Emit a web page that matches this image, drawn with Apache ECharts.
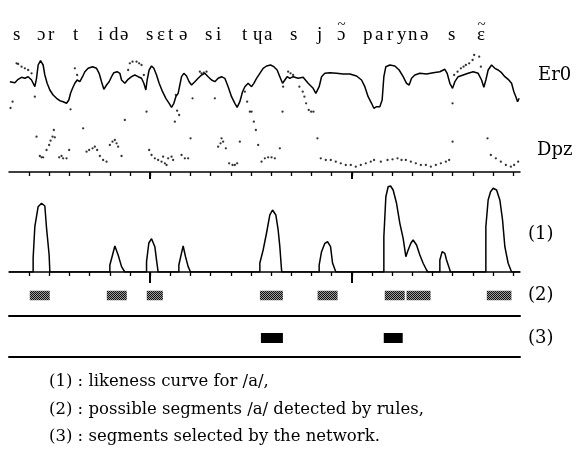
<!DOCTYPE html>
<html>
<head>
<meta charset="utf-8">
<script src="https://cdn.jsdelivr.net/npm/echarts@6/dist/echarts.min.js"></script>
<style>html,body{margin:0;padding:0;background:#fff}#c{width:580px;height:467px}</style>
</head>
<body>
<div id="c"></div>
<script>
// ---- data (time axis in frames; big ticks every 10 small ticks) ----
const tickValues = [40,50,60,70,80,90,100,110,120,130,140,150,160,170,180,190,200,210,220,230,240,250,260,270,280];
const bigTickValues = [100,200];
const phonemes = ['s','ɔ','r','t','i','d','ə','s','ɛ','t','ə','s','i','t','ɥ','a','s','j','ɔ\u0303','p','a','r','y','n','ə','s','ɛ\u0303'];
const captions = ['(1) : likeness curve for /a/,', '(2) : possible segments /a/ detected by rules,', '(3) : segments selected by the network.'];
const rowLabels = ['Er0','Dpz','(1)','(2)','(3)'];

const er0 = [[30.42,90.3],[32.9,89.3],[34.53,92.7],[36.22,94.7],[37.85,93.7],[39.49,95.3],[41.18,92],[42.81,85.3],[43.65,93.7],[44.45,107],[45.64,111.3],[46.93,107],[47.77,97],[48.91,88.7],[50.25,82],[51.88,77],[53.57,73.7],[55.21,71.3],[56.84,70.3],[58.53,68.7],[59.67,72],[60.51,78.7],[61.5,83.7],[62.64,88.7],[63.78,92],[65.12,90.3],[66.46,95.3],[67.6,100.3],[69.24,103.7],[71.42,105.3],[73.4,103.7],[74.69,98.7],[75.88,90.3],[77.02,82.7],[78.36,87],[79.65,90.3],[80.84,95.3],[81.98,99.3],[83.62,100.3],[84.95,98.7],[85.8,92],[87.43,88.7],[89.07,92.7],[90.75,95.3],[92.39,97],[94.03,95.3],[95.71,93.7],[96.85,88.7],[97.85,82],[98.49,92],[99.48,102],[100.67,106],[101.81,103.7],[103.15,97],[104.44,88.7],[106.13,80.3],[107.76,73.7],[109.4,68.7],[110.59,64.7],[111.73,68.7],[112.72,75.3],[113.86,78.7],[114.7,87],[115.55,95.3],[116.69,98.7],[118.02,96],[119.31,90.3],[120.5,87],[122.14,90.3],[123.78,93.7],[125.46,97],[127.1,98.7],[128.73,95.3],[130.42,92],[132.06,90.3],[133.69,93.7],[135.38,95.3],[137.01,93.7],[138.65,85.3],[140.33,75.3],[141.97,68.7],[143.11,64.7],[144.45,70.3],[145.79,80.3],[146.93,85.3],[148.57,88.7],[150.25,85.3],[151.39,88.7],[152.73,93.7],[154.37,98.7],[156,103.7],[157.69,106],[159.67,107],[161.31,105.3],[162.94,102],[164.28,95.3],[165.62,88.7],[166.76,92],[167.9,95.3],[169.24,93.7],[170.87,95.3],[173.35,93.7],[175.83,94.7],[178.31,88.7],[180.79,83.7],[182.13,78.7],[183.77,85.3],[184.96,95.3],[186.59,98.7],[189.07,99.3],[192.39,98.7],[195.67,98],[198.99,98],[202.31,96],[204.79,92],[206.42,85.3],[208.06,75.3],[209.75,68.7],[210.89,63.7],[212.23,65.3],[213.86,65.3],[215,72],[215.85,95.3],[216.84,105.3],[218.82,107],[221.3,106],[223.43,102],[225.42,95.3],[227.1,88.7],[228.39,87],[229.58,93.7],[231.22,97],[233.7,98.7],[237.02,98],[240.34,99.3],[243.61,100.3],[246.09,102.7],[247.23,98.7],[248.57,88.7],[249.91,83.7],[251.05,90.3],[252.69,95.3],[255.17,97],[257.65,98.7],[260.13,100.3],[262.61,98.7],[264.29,92],[265.43,84.7],[266.42,92],[267.56,102],[269.25,107],[270.88,103.7],[272.52,102],[274.2,99.3],[275.84,95.3],[277.48,92.7],[279.17,88.7],[280.31,80.3],[281.3,75.3],[282.14,70.3],[282.93,73.7]];

const dpz = [[30.76,64],[31.76,70.3],[33.75,108.7],[34.53,108],[36.22,105.3],[37.85,103.7],[39.49,102],[41.18,98.7],[42.81,75.3],[43.65,35.3],[45.29,16],[46.13,14.7],[46.93,14.7],[48.61,22],[49.9,27],[50.6,31.3],[51.59,35.3],[52.23,42],[52.73,34.7],[54.86,14.7],[56.05,16],[56.84,13.7],[58.53,13.7],[59.82,22],[60.51,62.7],[62.64,103.7],[63.78,97],[66.76,43.7],[68.45,20.3],[69.74,22],[71.42,23.7],[72.56,25.3],[73.7,22],[75.04,16],[76.67,12],[78.36,10.3],[80,27],[81.33,30.3],[82.48,32],[83.32,28.7],[84.11,25.3],[85.8,16],[87.43,52],[89.07,102],[89.91,108.7],[91.25,110.3],[93.23,110.3],[94.52,108.7],[95.71,107],[96.85,97],[98.19,60.3],[99.48,22],[100.67,17],[102.31,13.7],[103.94,12],[105.63,10.3],[106.42,15.3],[107.27,8.7],[108.11,7],[108.9,13.7],[110.59,15.3],[111.38,12],[112.22,50.3],[112.72,77],[113.36,61.3],[114.36,57],[115.55,17],[117.18,13.7],[118.82,13.7],[120.01,33.7],[121,73.7],[124.62,100.3],[125.46,98.7],[126.6,99.3],[127.94,100.3],[132.06,73.7],[133.69,25.3],[134.88,28.7],[135.38,33.7],[136.17,30.3],[137.51,23.7],[139.14,8.7],[140.83,7],[141.97,7],[143.11,8.7],[144.45,30.3],[146.93,80.3],[148.07,70.3],[149.41,60.3],[150.25,60.3],[151.39,50.3],[152.39,42],[153.53,27],[155.21,10.3],[156.85,13.7],[158.48,14.7],[160.17,14.7],[161.8,13.7],[164.28,23.7],[165.62,60.3],[165.92,85.3],[168.4,100.3],[169.59,98.7],[170.87,97],[173.98,85.3],[175.62,80.3],[176.46,75.3],[177.3,68.7],[178.61,62],[179.8,60.3],[180.94,60.3],[182.93,33.7],[184.57,13.7],[187.05,12],[189.53,12],[192.01,10.3],[194.49,8.7],[196.97,7],[199.45,7],[201.93,5.3],[204.41,7],[206.89,8.7],[209.37,10.3],[211,12],[214.35,10.3],[217.67,12],[220.15,12.7],[222.63,13.7],[224.61,12],[226.75,12],[229.23,10.3],[231.71,8.7],[234.19,7],[236.67,7],[239.15,5.3],[241.63,7],[244.11,8.7],[246.59,10.3],[248.23,12],[249.91,68.7],[249.91,30.3],[250.71,97],[252.4,100.3],[254.04,103.7],[255.37,105.3],[256.51,107],[258.15,108.7],[259.84,112],[260.63,117],[263.11,115.3],[263.95,105.3],[267.25,33.7],[268.89,17],[271.37,13.7],[273.85,10.3],[276.33,7],[278.81,5.3],[280.45,7],[282.44,10.3]];

const likeness = [[30,0],[41.97,0],[41.97,0.152],[42.81,0.492],[44.45,0.71],[46.13,0.747],[47.77,0.717],[48.61,0.478],[49.9,0.185],[50.25,0],
[80,0],[80,0.076],[81.33,0.185],[82.48,0.283],[84.11,0.185],[85.8,0.058],[87.43,0],
[98.19,0],[98.19,0.112],[99.33,0.315],[100.67,0.362],[102.31,0.275],[103.15,0.13],[103.94,0],
[114.21,0],[114.21,0.076],[115.55,0.207],[116.34,0.283],[117.53,0.166],[118.82,0.058],[120.01,0],
[154.37,0],[154.37,0.098],[156,0.239],[157.69,0.424],[159.32,0.62],[160.66,0.674],[162.3,0.62],[163.44,0.457],[164.28,0.275],[165.13,0.022],[165.28,0],
[183.77,0],[183.77,0.076],[184.96,0.221],[186.59,0.312],[187.93,0.329],[189.42,0.275],[190.41,0.098],[192.05,0],
[215.85,0],[215.85,0.384],[216.84,0.818],[217.98,0.927],[219.17,0.935],[220.46,0.891],[222.14,0.747],[223.78,0.529],[225.42,0.366],[226.75,0.166],[227.89,0.239],[229.23,0.312],[230.37,0.348],[232.06,0.293],[233.7,0.185],[235.33,0.095],[237.02,0.022],[237.66,0],
[243.61,0],[243.61,0.13],[244.75,0.221],[246.09,0.203],[246.93,0.13],[248.91,0],
[266.42,0],[266.42,0.492],[267.56,0.783],[268.75,0.873],[270.04,0.91],[271.73,0.891],[273.36,0.783],[274.7,0.565],[275.84,0.275],[277.48,0.095],[279.17,0],[283.35,0]];

// segments [start, end]
const ruleSegments = [[40.3,50.2],[78.5,88.4],[98.3,106.3],[154.4,165.8],[183,192.9],[216.3,226.2],[227.1,239],[266.9,279.1]];
const netSegments = [[154.9,165.8],[215.8,225.2]];

// ---- layout / style ----
const X_MIN = 30, X_MAX = 283.35;
const GL = 9, GR = 60;
const serif = 'DejaVu Serif';
const phonemeX = [13,37,48,73,98,109,120,146,157,168,179,205,216,242,253,264,290,317,337,363,375,387,397,408,420,448,477];

const pc = document.createElement('canvas');
pc.width = 2; pc.height = 2;
const pctx = pc.getContext('2d');
pctx.fillStyle = '#9a9a9a'; pctx.fillRect(0,0,2,2);
pctx.fillStyle = '#111'; pctx.fillRect(0,0,1,1); pctx.fillRect(1,1,1,1);
const hatch = {image: pc, repeat: 'repeat'};

function xAx(grid, opt) {
  return Object.assign({
    type: 'value', gridIndex: grid, min: X_MIN, max: X_MAX, position: 'bottom',
    axisLine: {show: true, lineStyle: {color: '#000', width: 1.5}},
    axisTick: {show: false},
    axisLabel: {show: false}, splitLine: {show: false}
  }, opt);
}
function yAx(grid, min, max) {
  return {type: 'value', gridIndex: grid, min: min, max: max, show: false, splitLine: {show: false}};
}
function smallTicks(len) { return {show: true, inside: false, length: len, customValues: tickValues, lineStyle: {color: '#000', width: 1.3}}; }
function bigTicks(len) { return {show: true, inside: false, length: len, customValues: bigTickValues, lineStyle: {color: '#000', width: 2}}; }

function segRender(h, fill) {
  return function (params, api) {
    const s = api.coord([api.value(0), 0.5]);
    const e = api.coord([api.value(1), 0.5]);
    return {type: 'rect', shape: {x: s[0], y: s[1] - h / 2, width: e[0] - s[0], height: h}, style: {fill: fill}};
  };
}

const graphics = [];
const pFont = '19px "Liberation Serif"';
phonemes.forEach((p, i) => {
  const base = p.replace('\u0303', '');
  graphics.push({type: 'text', x: phonemeX[i], y: 26, style: {text: base, font: pFont, fill: '#000', verticalAlign: 'alphabetic'}});
  if (p !== base) {
    graphics.push({type: 'text', x: phonemeX[i] + 4.5, y: 18, style: {text: '~', font: '15px "Liberation Serif"', fill: '#000', align: 'center', verticalAlign: 'alphabetic'}});
  }
});
const labelY = [75, 150, 234, 295, 338];
const labelX = [538, 537, 528, 528, 528];
rowLabels.forEach((t, i) => graphics.push({type: 'text', x: labelX[i], y: labelY[i], style: {text: t, font: '18px "' + serif + '"', fill: '#000', verticalAlign: 'middle'}}));
const capY = [382, 410, 437];
captions.forEach((t, i) => graphics.push({type: 'text', x: 49, y: capY[i], style: {text: t, font: '16.5px "' + serif + '"', fill: '#000', verticalAlign: 'middle'}}));

const chart = echarts.init(document.getElementById('c'), null, {renderer: 'canvas'});
chart.setOption({
  animation: false,
  backgroundColor: '#fff',
  grid: [
    {left: GL, right: GR, top: 42, height: 130},
    {left: GL, right: GR, top: 180, height: 92},
    {left: GL, right: GR, top: 275, height: 41},
    {left: GL, right: GR, top: 319, height: 38}
  ],
  xAxis: [
    xAx(0, {axisTick: smallTicks(4)}),
    xAx(0, {axisLine: {show: false}, axisTick: bigTicks(7)}),
    xAx(1, {axisTick: smallTicks(4)}),
    xAx(1, {axisLine: {show: false}, axisTick: bigTicks(11)}),
    xAx(2, {axisLine: {show: true, lineStyle: {color: '#000', width: 2}}}),
    xAx(3, {axisLine: {show: true, lineStyle: {color: '#000', width: 2}}})
  ],
  yAxis: [yAx(0, 0, 130), yAx(1, 0, 1), yAx(2, 0, 1), yAx(3, 0, 1)],
  series: [
    {name: 'Er0', type: 'line', xAxisIndex: 0, yAxisIndex: 0, data: er0, showSymbol: false, lineStyle: {color: '#000', width: 1.5}},
    {name: 'Dpz', type: 'scatter', xAxisIndex: 0, yAxisIndex: 0, data: dpz, symbolSize: 2.3, itemStyle: {color: '#000'}},
    {name: 'likeness', type: 'line', xAxisIndex: 2, yAxisIndex: 1, data: likeness, showSymbol: false, lineStyle: {color: '#000', width: 1.5}},
    {name: 'rules', type: 'custom', xAxisIndex: 4, yAxisIndex: 2, data: ruleSegments, encode: {x: [0, 1]}, renderItem: segRender(9.5, hatch)},
    {name: 'network', type: 'custom', xAxisIndex: 5, yAxisIndex: 3, data: netSegments, encode: {x: [0, 1]}, renderItem: segRender(10, '#000')}
  ],
  graphic: graphics
});
</script>
</body>
</html>
